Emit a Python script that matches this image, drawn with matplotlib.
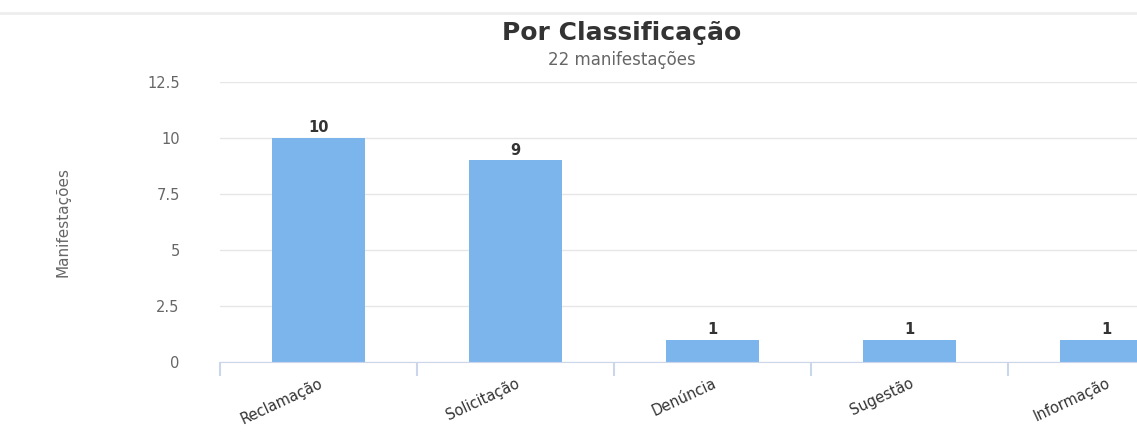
import matplotlib
matplotlib.use("Agg")
import matplotlib.pyplot as plt
from matplotlib.ticker import FixedLocator, NullFormatter

categories = ["Reclamação", "Solicitação", "Denúncia", "Sugestão", "Informação"]
values = [10, 9, 1, 1, 1]
yticks = [0, 2.5, 5, 7.5, 10, 12.5]
ytick_labels = ["0", "2.5", "5", "7.5", "10", "12.5"]
title = "Por Classificação"
subtitle = "22 manifestações"
ylabel = "Manifestações"

W, H = 1137, 445
fig = plt.figure(figsize=(W / 100, H / 100), dpi=100)
ax = fig.add_axes([220 / W, 83 / H, 985 / W, 280 / H])

x = list(range(len(categories)))
ax.bar(x, values, width=0.47, color="#7cb5ec", zorder=3)
for xi, v in zip(x, values):
    ax.text(xi, v + 0.12, str(v), ha="center", va="bottom", fontsize=10.5,
            fontweight="bold", color="#333333", zorder=4)

ax.set_xlim(-0.5, len(categories) - 0.5)
ax.set_ylim(0, 12.5)
ax.set_yticks(yticks)
ax.set_yticklabels(ytick_labels, fontsize=10.5, color="#666666")
ax.tick_params(axis="y", length=0, pad=29)
ax.grid(axis="y", color="#e6e6e6", linewidth=1, zorder=0)

ax.set_xticks(x)
ax.set_xticklabels(categories, rotation=25, ha="right", rotation_mode="anchor",
                   fontsize=10.5, color="#333333")
ax.tick_params(axis="x", which="major", length=0, pad=10)
ax.xaxis.set_minor_locator(FixedLocator([i - 0.5 for i in range(len(categories) + 1)]))
ax.xaxis.set_minor_formatter(NullFormatter())
ax.tick_params(axis="x", which="minor", length=10, color="#ccd6eb", width=1.5)

for s in ["top", "right", "left"]:
    ax.spines[s].set_visible(False)
ax.spines["bottom"].set_color("#ccd6eb")
ax.spines["bottom"].set_zorder(5)

ax.set_ylabel(ylabel, fontsize=11, color="#666666", labelpad=0)
ax.yaxis.set_label_coords(-150 / 985, 0.5)

fig.text(622 / W, 1 - 33 / H, title, ha="center", va="center", fontsize=18,
         fontweight="bold", color="#333333")
fig.text(622 / W, 1 - 60 / H, subtitle, ha="center", va="center", fontsize=12,
         color="#666666")

fig.add_artist(plt.Line2D([0, 1], [1 - 13 / H, 1 - 13 / H], color="#eeeeee",
                          linewidth=2, transform=fig.transFigure))

fig.savefig("out.png", dpi=100)
